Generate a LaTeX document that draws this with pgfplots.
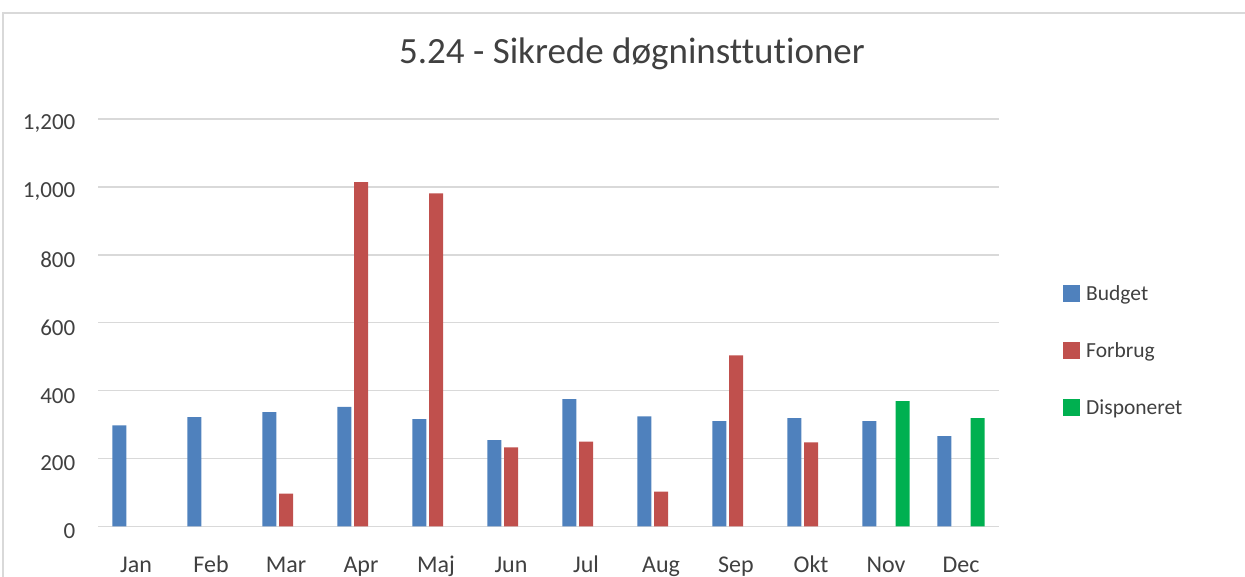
\documentclass[border=0pt]{standalone}
\usepackage{pgfplots}
\pgfplotsset{compat=1.18}
\usepackage{fontspec}
\setmainfont{Carlito}[Ligatures=NoCommon]
\definecolor{cBudget}{HTML}{4F81BD}
\definecolor{cForbrug}{HTML}{C0504D}
\definecolor{cDisp}{HTML}{00B050}
\definecolor{gridc}{HTML}{D9D9D9}
\definecolor{txt}{HTML}{404040}
\pgfplotsset{sq legend/.style={legend image code/.code={\fill[##1] (0pt,-8.5pt) rectangle (17pt,8.5pt);}}}
\begin{document}
\begin{tikzpicture}
\useasboundingbox (0pt,0pt) rectangle (1245pt,577pt);
\draw[gridc, line width=1.5pt] (3pt,0pt) -- (3pt,564pt) -- (1245pt,564pt);
\node[anchor=base, text=txt, font=\fontsize{37}{42}\selectfont] at (632pt,513.5pt) {5.24 - Sikrede døgninsttutioner};
\begin{axis}[
  at={(98.5pt,50.5pt)}, anchor=south west,
  scale only axis, width=900pt, height=407.5pt,
  xmin=-0.5, xmax=11.5, ymin=0, ymax=1200,
  xtick={0,1,2,3,4,5,6,7,8,9,10,11},
  xticklabels={Jan,Feb,Mar,Apr,Maj,Jun,Jul,Aug,Sep,Okt,Nov,Dec},
  ytick={0,200,400,600,800,1000,1200},
  ymajorgrids, grid style={gridc, line width=1.5pt},
  axis line style={draw=none},
  tick style={draw=none}, major tick length=0pt,
  /pgf/number format/assume math mode=true,
  /pgf/number format/1000 sep={,},
  ticklabel style={text=txt},
  yticklabel style={font=\fontsize{23}{27}\selectfont, anchor=east, inner sep=0pt, xshift=-23pt, yshift=-5pt},
  xticklabel style={font=\fontsize{24}{28}\selectfont, anchor=base, inner sep=0pt, yshift=-46.5pt},
  legend style={at={(1,0.431)}, anchor=west, xshift=64.5pt, draw=none, fill=none,
    inner sep=0pt, font=\fontsize{21.5}{25}\selectfont, text=txt,
    row sep=40pt, column sep=6pt, nodes={inner sep=0pt}},
  legend cell align=left,
]
\addplot[ybar, bar width=14pt, bar shift=-16.6pt, fill=cBudget, draw=none, sq legend] coordinates {
(0,298) (1,322) (2,337) (3,352) (4,316) (5,254) (6,375) (7,324) (8,310) (9,319) (10,310) (11,266)};
\addlegendentry{Budget}
\addplot[ybar, bar width=14pt, bar shift=0pt, fill=cForbrug, draw=none, sq legend] coordinates {
(2,97) (3,1014) (4,981) (5,233) (6,250) (7,103) (8,504) (9,248)};
\addlegendentry{Forbrug}
\addplot[ybar, bar width=14pt, bar shift=16.6pt, fill=cDisp, draw=none, sq legend] coordinates {
(10,369) (11,319)};
\addlegendentry{Disponeret}
\end{axis}
\end{tikzpicture}
\end{document}
